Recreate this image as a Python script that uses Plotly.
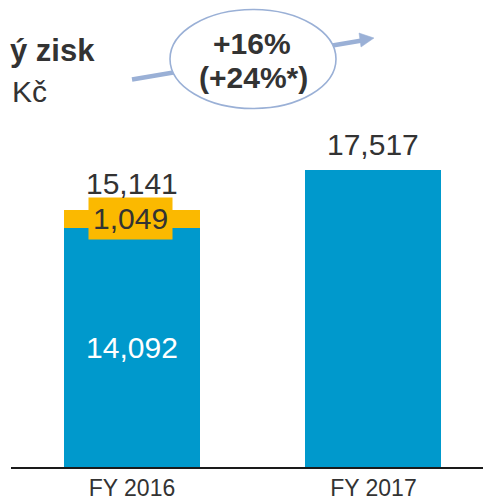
import plotly.graph_objects as go

categories = ["FY 2016", "FY 2017"]
base_values = [14092, 17517]
extra_values = [1049, None]
totals = [15141, 17517]
base_labels = ["14,092", ""]
extra_label = "1,049"
total_labels = ["15,141", "17,517"]
title_text = "ý zisk"
unit_text = "Kč"
growth_lines = ["+16%", "(+24%*)"]

BLUE = "#0099CC"
ORANGE = "#FBB900"
DARK = "#333333"
ARROW = "#9AB0D6"
FONT = "Liberation Sans, Arial"

OFF = 8  # page offset of the figure
W, H = 491, 500
L, R, T, B = 3, 0, 0, 41
pw, ph = W - L - R, H - T - B

def px(x):
    return (x - OFF - L) / pw

def py(y):
    return (H - B - (y - OFF)) / ph

fig = go.Figure()
fig.add_trace(go.Bar(
    x=categories, y=base_values, marker=dict(color=BLUE, line=dict(width=0)),
    text=base_labels, textposition="inside", insidetextanchor="middle",
    textfont=dict(color="white", size=30, family=FONT),
    width=0.563, hoverinfo="skip", showlegend=False,
))
fig.add_trace(go.Bar(
    x=categories, y=extra_values, marker=dict(color=ORANGE, line=dict(width=0)),
    width=0.563, hoverinfo="skip", showlegend=False,
))

# value labels
fig.add_annotation(x=categories[0], y=base_values[0] + extra_values[0] / 2, text=extra_label,
                   showarrow=False, bgcolor=ORANGE, borderpad=4, xshift=-1.5, yshift=1,
                   xanchor="center", yanchor="middle",
                   font=dict(size=30, color=DARK, family=FONT))
for c, t, lab in zip(categories, totals, total_labels):
    shift = 27 if c == categories[0] else 25
    fig.add_annotation(x=c, y=t, text=lab, showarrow=False, xanchor="center", yanchor="middle",
                       yshift=shift, font=dict(size=30, color=DARK, family=FONT))

# title texts
fig.add_annotation(xref="paper", yref="paper", x=px(97), y=py(50), xanchor="right", yanchor="middle",
                   text="<b>" + title_text + "</b>", showarrow=False,
                   font=dict(size=31, color=DARK, family=FONT))
fig.add_annotation(xref="paper", yref="paper", x=px(10), y=py(91), xanchor="left", yanchor="middle",
                   text=unit_text, showarrow=False,
                   font=dict(size=30, color=DARK, family=FONT))

# growth arrow
fig.add_shape(type="line", xref="paper", yref="paper", x0=px(132), y0=py(79.5), x1=px(362), y1=py(40.5),
              line=dict(color=ARROW, width=4.5), layer="above")
fig.add_shape(type="path", xref="paper", yref="paper",
              path=f"M {px(374)} {py(38)} L {px(359)} {py(33)} L {px(361)} {py(47)} Z",
              fillcolor=ARROW, line=dict(color=ARROW, width=0.5), layer="above")
fig.add_shape(type="circle", xref="paper", yref="paper", x0=px(170), x1=px(336), y0=py(108.5), y1=py(9.5),
              fillcolor="white", line=dict(color=ARROW, width=1.6), layer="above")
fig.add_annotation(xref="paper", yref="paper", x=px(252), y=py(43), text="<b>" + growth_lines[0] + "</b>",
                   xanchor="center", yanchor="middle",
                   showarrow=False, font=dict(size=30, color=DARK, family=FONT))
fig.add_annotation(xref="paper", yref="paper", x=px(253), y=py(77), text="<b>" + growth_lines[1] + "</b>",
                   xanchor="center", yanchor="middle",
                   showarrow=False, font=dict(size=30, color=DARK, family=FONT))

fig.update_layout(
    barmode="stack", width=W, height=H,
    margin=dict(l=L, r=R, t=T, b=B),
    plot_bgcolor="white", paper_bgcolor="white",
    xaxis=dict(range=[-0.501, 1.52], showline=True, linecolor="#1a1a1a", linewidth=1.5,
               ticks="", showgrid=False, zeroline=False,
               tickfont=dict(size=23, color=DARK, family=FONT)),
    yaxis=dict(range=[0, ph / 0.01696], visible=False, showgrid=False, zeroline=False),
    uniformtext=dict(mode=False),
)
fig.write_html("out.html")
